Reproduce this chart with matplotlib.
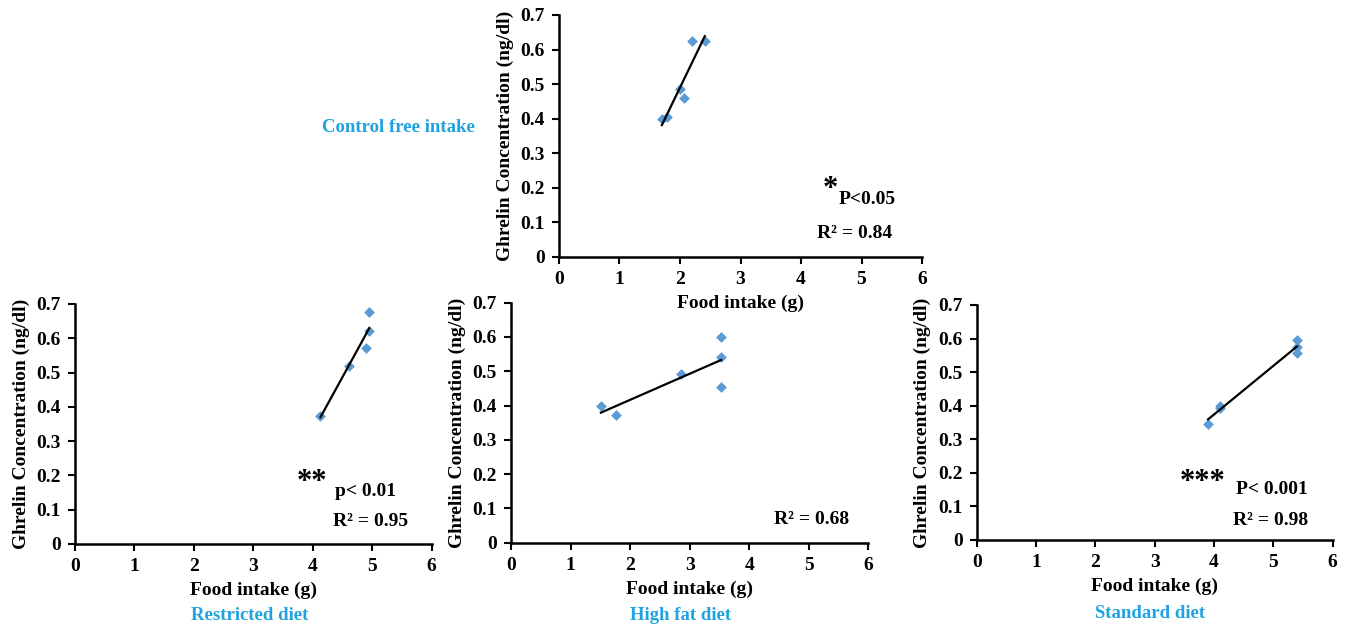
import numpy as np
import matplotlib
matplotlib.use("Agg")
import matplotlib.pyplot as plt

plt.rcParams['font.family'] = ['Liberation Serif', 'DejaVu Serif']
plt.rcParams['font.weight'] = 'bold'

# ---- data ----
control_x = [1.70, 1.79, 2.00, 2.07, 2.20, 2.41]
control_y = [0.400, 0.405, 0.485, 0.460, 0.626, 0.626]

restricted_x = [4.13, 4.61, 4.90, 4.95, 4.95]
restricted_y = [0.373, 0.520, 0.573, 0.621, 0.676]

highfat_x = [1.51, 1.77, 2.86, 3.53, 3.53, 3.53]
highfat_y = [0.400, 0.371, 0.493, 0.599, 0.542, 0.454]

standard_x = [3.90, 4.10, 4.10, 5.40, 5.40, 5.40]
standard_y = [0.345, 0.393, 0.400, 0.596, 0.575, 0.557]

panel_titles = ["Control free intake", "Restricted diet", "High fat diet", "Standard diet"]
r2_labels = ["R² = 0.84", "R² = 0.95", "R² = 0.68", "R² = 0.98"]
stars = ["*", "**", "", "***"]
p_labels = ["P<0.05", "p< 0.01", "", "P< 0.001"]

x_ticks = [0, 1, 2, 3, 4, 5, 6]
y_ticks = [0, 0.1, 0.2, 0.3, 0.4, 0.5, 0.6, 0.7]
y_tick_labels = ["0", "0.1", "0.2", "0.3", "0.4", "0.5", "0.6", "0.7"]

xlabel = "Food intake (g)"
ylabel = "Ghrelin Concentration (ng/dl)"

MARKER_C = "#5B9BD5"
TITLE_C = "#1FA3E0"
FS = 14

fig = plt.figure(figsize=(13.46, 6.26), dpi=100)

rects = [
    [0.4153, 0.5895, 0.2697, 0.3866],
    [0.0557, 0.1310, 0.2650, 0.3834],
    [0.3796, 0.1331, 0.2655, 0.3834],
    [0.7256, 0.1374, 0.2645, 0.3754],
]
datasets = [(control_x, control_y), (restricted_x, restricted_y),
            (highfat_x, highfat_y), (standard_x, standard_y)]

# annotation positions (axes fraction)
star_pos = [(0.727, 0.277), (0.622, 0.258), None, (0.571, 0.243)]
p_pos = [(0.769, 0.236), (0.729, 0.217), None, (0.728, 0.216)]
r2_pos = [(0.711, 0.095), (0.723, 0.092), (0.737, 0.0975), (0.721, 0.082)]

for i, (rect, (xs, ys)) in enumerate(zip(rects, datasets)):
    ax = fig.add_axes(rect)
    ax.patch.set_visible(False)
    ax.scatter(xs, ys, marker="D", s=30, color=MARKER_C, zorder=3, linewidths=0)
    xa = np.array(xs)
    k, b = np.polyfit(xa, np.array(ys), 1)
    xl = np.array([xa.min(), xa.max()])
    ax.plot(xl, k * xl + b, color="black", lw=1.6, zorder=4)
    ax.set_xlim(0, 6)
    ax.set_ylim(0, 0.7)
    ax.set_xticks(x_ticks)
    ax.set_yticks(y_ticks)
    ax.set_yticklabels(y_tick_labels)
    for s in ["top", "right"]:
        ax.spines[s].set_visible(False)
    for s in ["left", "bottom"]:
        ax.spines[s].set_linewidth(1.8)
    ax.tick_params(direction="out", length=5, width=1.5, labelsize=FS, pad=5)
    for lab in ax.get_xticklabels() + ax.get_yticklabels():
        lab.set_fontweight("bold")
    ax.set_xlabel(xlabel, fontsize=FS, fontweight="bold", labelpad=5)
    ax.set_ylabel(ylabel, fontsize=FS, fontweight="bold", labelpad=5)
    if star_pos[i]:
        ax.text(*star_pos[i], stars[i], transform=ax.transAxes, fontsize=22,
                fontweight="bold", ha="left", va="center")
        ax.text(*p_pos[i], p_labels[i], transform=ax.transAxes, fontsize=FS,
                fontweight="bold", ha="left", va="center")
    ax.text(*r2_pos[i], r2_labels[i], transform=ax.transAxes, fontsize=FS,
            fontweight="bold", ha="left", va="center")

# panel titles (figure coordinates)
title_pos = [(398 / 1346, 1 - 127 / 626), (250 / 1346, 1 - 615 / 626),
             (681 / 1346, 1 - 615 / 626), (1150 / 1346, 1 - 613 / 626)]
for t, (tx, ty) in zip(panel_titles, title_pos):
    fig.text(tx, ty, t, color=TITLE_C, fontsize=13.5, fontweight="bold",
             ha="center", va="center")

fig.savefig("out.png", dpi=100)
